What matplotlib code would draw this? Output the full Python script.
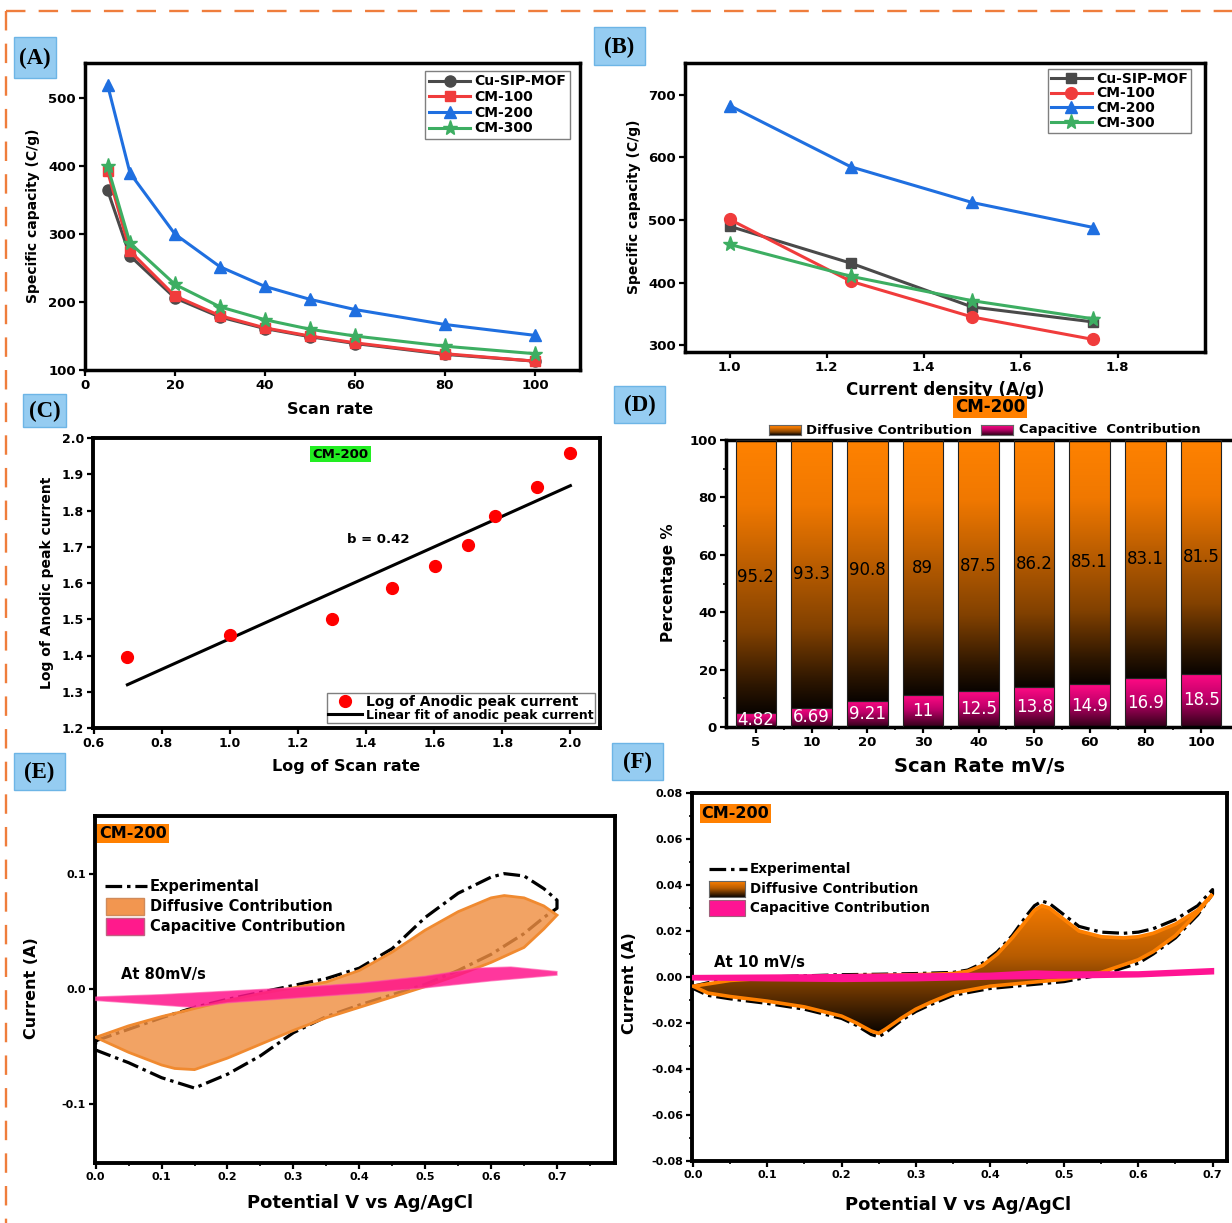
import numpy as np
import matplotlib
matplotlib.use('Agg')
import matplotlib.pyplot as plt
from matplotlib.patches import Rectangle, Polygon
from matplotlib.lines import Line2D
from matplotlib.colors import LinearSegmentedColormap
from matplotlib.ticker import MultipleLocator, FormatStrFormatter, FixedLocator

plt.rcParams['font.family'] = ['DejaVu Sans']
plt.rcParams['font.weight'] = 'bold'
plt.rcParams['axes.unicode_minus'] = False
plt.rcParams['lines.scale_dashes'] = False

# ---------------- data ----------------
# (A) specific capacity vs scan rate
scan_rate = [5, 10, 20, 30, 40, 50, 60, 80, 100]
capA_cusip = [365, 268, 206, 178, 161, 149, 139, 123, 113]
capA_cm100 = [393, 275, 209, 180, 162, 150, 140, 124, 113]
capA_cm200 = [520, 390, 300, 252, 223, 204, 189, 167, 151]
capA_cm300 = [400, 287, 226, 193, 174, 160, 150, 135, 124]

# (B) specific capacity vs current density
current_density = [1.0, 1.25, 1.5, 1.75]
capB_cusip = [490, 431, 361, 337]
capB_cm100 = [501, 402, 345, 309]
capB_cm200 = [683, 585, 528, 488]
capB_cm300 = [461, 410, 371, 342]

# (C) log anodic peak current vs log scan rate
log_scan_rate = [0.699, 1.0, 1.301, 1.477, 1.602, 1.699, 1.778, 1.903, 2.0]
log_anodic_current = [1.395, 1.457, 1.502, 1.585, 1.647, 1.706, 1.784, 1.866, 1.958]

# (D) contributions
rate_labels = ['5', '10', '20', '30', '40', '50', '60', '80', '100']
diffusive_pct = [95.2, 93.3, 90.8, 89, 87.5, 86.2, 85.1, 83.1, 81.5]
capacitive_pct = [4.82, 6.69, 9.21, 11, 12.5, 13.8, 14.9, 16.9, 18.5]

# (E) CV at 80 mV/s
E_exp_fwd_v = [0.00, 0.05, 0.10, 0.15, 0.20, 0.25, 0.30, 0.35, 0.40, 0.45, 0.50, 0.55, 0.60, 0.62, 0.65, 0.68, 0.70]
E_exp_fwd_i = [-0.045, -0.035, -0.025, -0.016, -0.009, -0.003, 0.003, 0.009, 0.018, 0.035, 0.062, 0.083, 0.097, 0.100, 0.098, 0.087, 0.077]
E_exp_rev_v = [0.70, 0.68, 0.65, 0.60, 0.55, 0.50, 0.45, 0.40, 0.35, 0.30, 0.25, 0.20, 0.15, 0.10, 0.05, 0.00, 0.00]
E_exp_rev_i = [0.070, 0.062, 0.048, 0.030, 0.016, 0.004, -0.005, -0.014, -0.024, -0.038, -0.058, -0.074, -0.086, -0.077, -0.064, -0.053, -0.045]
E_diff_up_v = [0.00, 0.05, 0.10, 0.15, 0.20, 0.25, 0.30, 0.35, 0.40, 0.45, 0.50, 0.55, 0.60, 0.62, 0.65, 0.68, 0.70]
E_diff_up_i = [-0.042, -0.032, -0.024, -0.017, -0.010, -0.004, 0.001, 0.006, 0.016, 0.032, 0.051, 0.067, 0.079, 0.081, 0.079, 0.072, 0.064]
E_diff_lo_v = [0.70, 0.68, 0.65, 0.60, 0.55, 0.50, 0.45, 0.40, 0.35, 0.30, 0.25, 0.20, 0.15, 0.12, 0.10, 0.05, 0.00]
E_diff_lo_i = [0.064, 0.052, 0.036, 0.023, 0.012, 0.002, -0.007, -0.016, -0.025, -0.036, -0.048, -0.060, -0.070, -0.069, -0.066, -0.055, -0.042]
E_cap_up_v = [0.00, 0.10, 0.20, 0.30, 0.40, 0.50, 0.58, 0.63, 0.70]
E_cap_up_i = [-0.007, -0.005, -0.002, 0.001, 0.005, 0.011, 0.018, 0.019, 0.015]
E_cap_lo_v = [0.70, 0.60, 0.50, 0.40, 0.30, 0.20, 0.15, 0.10, 0.05, 0.00]
E_cap_lo_i = [0.012, 0.007, 0.001, -0.004, -0.008, -0.012, -0.016, -0.014, -0.012, -0.010]

# (F) CV at 10 mV/s
F_exp_fwd_v = [0.00, 0.02, 0.05, 0.10, 0.15, 0.20, 0.25, 0.30, 0.35, 0.37, 0.39, 0.41, 0.43, 0.45, 0.46, 0.47, 0.48, 0.50, 0.52, 0.55, 0.58, 0.60, 0.62, 0.65, 0.68, 0.70]
F_exp_fwd_i = [-0.004, -0.0025, -0.001, 0.000, 0.0005, 0.001, 0.0012, 0.0015, 0.002, 0.003, 0.006, 0.011, 0.018, 0.027, 0.031, 0.033, 0.032, 0.027, 0.022, 0.0195, 0.019, 0.0195, 0.021, 0.025, 0.031, 0.038]
F_exp_rev_v = [0.70, 0.68, 0.65, 0.62, 0.60, 0.55, 0.50, 0.45, 0.40, 0.35, 0.32, 0.30, 0.28, 0.26, 0.25, 0.24, 0.22, 0.20, 0.15, 0.10, 0.05, 0.02, 0.00]
F_exp_rev_i = [0.036, 0.027, 0.017, 0.010, 0.006, 0.001, -0.002, -0.0035, -0.005, -0.008, -0.012, -0.015, -0.019, -0.024, -0.026, -0.025, -0.021, -0.018, -0.014, -0.0115, -0.0095, -0.008, -0.005]
F_diff_up_v = [0.00, 0.05, 0.10, 0.20, 0.30, 0.35, 0.37, 0.39, 0.41, 0.43, 0.45, 0.46, 0.47, 0.48, 0.50, 0.52, 0.55, 0.58, 0.60, 0.62, 0.65, 0.68, 0.70]
F_diff_up_i = [-0.004, -0.0015, -0.0005, 0.0005, 0.001, 0.0015, 0.0025, 0.005, 0.010, 0.017, 0.025, 0.029, 0.031, 0.030, 0.025, 0.020, 0.0175, 0.017, 0.0175, 0.019, 0.023, 0.029, 0.036]
F_diff_lo_v = [0.70, 0.68, 0.65, 0.62, 0.60, 0.55, 0.50, 0.45, 0.40, 0.35, 0.32, 0.30, 0.28, 0.26, 0.25, 0.24, 0.22, 0.20, 0.15, 0.10, 0.05, 0.02, 0.00]
F_diff_lo_i = [0.036, 0.028, 0.018, 0.011, 0.0075, 0.002, -0.001, -0.0025, -0.004, -0.007, -0.011, -0.014, -0.018, -0.0225, -0.0245, -0.0235, -0.020, -0.017, -0.013, -0.0105, -0.0085, -0.007, -0.004]
F_cap_up_v = [0.00, 0.20, 0.40, 0.46, 0.50, 0.60, 0.70]
F_cap_up_i = [0.0002, 0.0006, 0.0012, 0.0022, 0.0018, 0.0018, 0.0032]
F_cap_lo_v = [0.70, 0.60, 0.50, 0.40, 0.30, 0.20, 0.10, 0.00]
F_cap_lo_i = [0.0018, 0.0005, 0.0, -0.0005, -0.0012, -0.0015, -0.0012, -0.0008]

# ---------------- figure helpers ----------------
W, H = 1232, 1223
fig = plt.figure(figsize=(W / 100, H / 100), dpi=100)


def add_ax(l, t, r, b):
    return fig.add_axes([l / W, 1 - b / H, (r - l) / W, (b - t) / H])


def ftext(x, y, s, **kw):
    return fig.text(x / W, 1 - y / H, s, **kw)


def fline(xs, ys, **kw):
    fig.add_artist(Line2D([x / W for x in xs], [1 - y / H for y in ys], transform=fig.transFigure, **kw))


def frect(l, t, r, b, **kw):
    fig.add_artist(Rectangle((l / W, 1 - b / H), (r - l) / W, (b - t) / H, transform=fig.transFigure, **kw))


grad = np.linspace(0, 1, 256).reshape(-1, 1)


def fgrad(l, t, r, b, cmap, edge='#666666'):
    a = add_ax(l, t, r, b)
    a.imshow(grad, origin='lower', aspect='auto', cmap=cmap, extent=[0, 1, 0, 1])
    a.set_xticks([]); a.set_yticks([])
    for s in a.spines.values():
        s.set_linewidth(0.8); s.set_edgecolor(edge)
    return a


def style_ax(ax, spine_lw=2.5, size=9.5):
    for s in ax.spines.values():
        s.set_linewidth(spine_lw)
    ax.tick_params(which='major', direction='out', width=1.6, length=4.5, labelsize=size, pad=2)
    ax.tick_params(which='minor', direction='out', width=1.2, length=2.5)


def place_label(ax, box, which, text, cx, cy, size):
    l, t, r, b = box
    pos = ((cx - l) / (r - l), (b - cy) / (b - t))
    if which == 'x':
        ax.set_xlabel(text, fontsize=size, fontweight='bold', va='center', ha='center')
        ax.xaxis.set_label_coords(*pos)
    else:
        ax.set_ylabel(text, fontsize=size, fontweight='bold', va='center', ha='center')
        ax.yaxis.set_label_coords(*pos)


def panel_tag(l, t, r, b, s):
    frect(l, t, r, b, facecolor='#95CCF1', edgecolor='#6DB5E6', lw=1.0)
    ftext((l + r) / 2, (t + b) / 2 + 1, s, ha='center', va='center', fontsize=16.5,
          fontweight='bold', family='Liberation Serif')


# dashed orange frame
fline([6, 1232], [11, 11], color='#EF7D3C', lw=1.7, ls=(0, (14, 9.5)))
fline([6, 6], [11, 1223], color='#EF7D3C', lw=1.7, ls=(0, (14, 9.5)))

c_gray, c_red, c_blue, c_green = '#4A4A4A', '#F03C3C', '#1F6FE0', '#3DAE62'

# ---------------- (A) ----------------
boxA = (85, 63, 580, 370)
axA = add_ax(*boxA)
for vals, lab, col, mk, ms in [(capA_cusip, 'Cu-SIP-MOF', c_gray, 'o', 8),
                               (capA_cm100, 'CM-100', c_red, 's', 7.5),
                               (capA_cm200, 'CM-200', c_blue, '^', 9),
                               (capA_cm300, 'CM-300', c_green, '*', 11)]:
    axA.plot(scan_rate, vals, color=col, marker=mk, ms=ms, lw=2.2, label=lab)
axA.set_xlim(0, 110)
axA.set_ylim(100, 552)
axA.set_xticks([0, 20, 40, 60, 80, 100])
axA.set_yticks([100, 200, 300, 400, 500])
style_ax(axA)
place_label(axA, boxA, 'x', 'Scan rate', 330, 410, 11.5)
place_label(axA, boxA, 'y', 'Specific capacity (C/g)', 33, 216, 10)
axA.legend(loc='upper right', bbox_to_anchor=((570 - 85) / 495, (370 - 71) / 307), borderaxespad=0,
           prop={'weight': 'bold', 'size': 10}, handlelength=3.0, handletextpad=0.3, borderpad=0.25,
           labelspacing=0.12, fancybox=False, edgecolor='#7F7F7F', framealpha=1)
panel_tag(14, 37, 56, 78, '(A)')

# ---------------- (B) ----------------
boxB = (685, 63, 1205, 352)
axB = add_ax(*boxB)
for vals, lab, col, mk, ms in [(capB_cusip, 'Cu-SIP-MOF', c_gray, 's', 7.5),
                               (capB_cm100, 'CM-100', c_red, 'o', 8.5),
                               (capB_cm200, 'CM-200', c_blue, '^', 9),
                               (capB_cm300, 'CM-300', c_green, '*', 11)]:
    axB.plot(current_density, vals, color=col, marker=mk, ms=ms, lw=2.2, label=lab)
axB.set_xlim(0.908, 1.98)
axB.set_ylim(289, 751)
axB.set_xticks([1.0, 1.2, 1.4, 1.6, 1.8])
axB.set_yticks([300, 400, 500, 600, 700])
axB.xaxis.set_major_formatter(FormatStrFormatter('%.1f'))
style_ax(axB)
place_label(axB, boxB, 'x', 'Current density (A/g)', 945, 390, 12)
place_label(axB, boxB, 'y', 'Specific capacity (C/g)', 634, 207, 10)
axB.legend(loc='upper right', bbox_to_anchor=((1191 - 685) / 520, (352 - 69) / 289), borderaxespad=0,
           prop={'weight': 'bold', 'size': 10}, handlelength=3.0, handletextpad=0.3, borderpad=0.2,
           labelspacing=0.05, fancybox=False, edgecolor='#7F7F7F', framealpha=1)
panel_tag(594, 27, 645, 65, '(B)')

# ---------------- (C) ----------------
boxC = (93, 438, 600, 728)
axC = add_ax(*boxC)
axC.plot(log_scan_rate, log_anodic_current, ls='none', marker='o', ms=8.5, color='#FF0000',
         label='Log of Anodic peak current', zorder=3)
slope, intercept = np.polyfit(log_scan_rate, log_anodic_current, 1)
fit_x = np.array([min(log_scan_rate), max(log_scan_rate)])
axC.plot(fit_x, slope * fit_x + intercept, color='black', lw=2.2, label='Linear fit of anodic peak current')
axC.set_xlim(0.598, 2.087)
axC.set_ylim(1.2, 2.0)
axC.set_xticks(np.arange(0.6, 2.01, 0.2))
axC.set_yticks(np.arange(1.2, 2.01, 0.1))
axC.xaxis.set_major_formatter(FormatStrFormatter('%.1f'))
axC.yaxis.set_major_formatter(FormatStrFormatter('%.1f'))
style_ax(axC, spine_lw=2.8, size=9)
place_label(axC, boxC, 'x', 'Log of Scan rate', 346, 767, 11.5)
place_label(axC, boxC, 'y', 'Log of Anodic peak current', 47, 583, 10)
legC = axC.legend(loc='lower right', bbox_to_anchor=((595 - 93) / 507, (728 - 723) / 290), borderaxespad=0,
                  prop={'weight': 'bold', 'size': 10}, handlelength=2.4, handletextpad=0.3, borderpad=0.1,
                  labelspacing=0.0, fancybox=False, edgecolor='#7F7F7F', framealpha=1)
legC.get_texts()[1].set_fontsize(9)
axC.text((340.5 - 93) / 507, (728 - 454) / 290, 'CM-200', transform=axC.transAxes, ha='center', va='center',
         fontsize=9.5, fontweight='bold', bbox=dict(boxstyle='square,pad=0.15', fc='#22EE22', ec='none'))
axC.text((347 - 93) / 507, (728 - 539) / 290, 'b = 0.42', transform=axC.transAxes, ha='left', va='center',
         fontsize=9.5, fontweight='bold')
panel_tag(23, 394, 66, 427, '(C)')

# ---------------- (D) ----------------
diff_cmap = LinearSegmentedColormap.from_list('diff', [(0.0, '#0A0400'), (0.1, '#2D1600'), (0.3, '#824100'),
                                                       (0.5, '#B25900'), (0.76, '#F07800'), (1.0, '#FF8200')])
cap_cmap = LinearSegmentedColormap.from_list('cap', [(0.0, '#300018'), (0.55, '#C0006A'),
                                                     (1.0, '#FF0A84')])
boxD = (726, 440, 1231, 727)
axD = add_ax(*boxD)
xpos = np.arange(len(rate_labels))
bw = 0.73
cap_bars = axD.bar(xpos, capacitive_pct, bw, facecolor='none', edgecolor='#222222', lw=0.8, zorder=3)
diff_bars = axD.bar(xpos, diffusive_pct, bw, bottom=capacitive_pct, facecolor='none', edgecolor='#222222',
                    lw=0.8, zorder=3)
for bars, cm in [(cap_bars, cap_cmap), (diff_bars, diff_cmap)]:
    for b in bars:
        axD.imshow(grad, origin='lower', aspect='auto', cmap=cm, zorder=2,
                   extent=[b.get_x(), b.get_x() + b.get_width(), b.get_y(), b.get_y() + b.get_height()])
for xi, c, d in zip(xpos, capacitive_pct, diffusive_pct):
    axD.text(xi, c / 2, str(c), ha='center', va='center', color='white', fontsize=12, fontweight='normal', zorder=4)
    axD.text(xi, c + d / 2, str(d), ha='center', va='center', color='black', fontsize=12, fontweight='normal',
             zorder=4)
axD.set_xlim(-0.537, 8.537)
axD.set_ylim(0, 100)
axD.set_xticks(xpos)
axD.set_xticklabels(rate_labels)
axD.xaxis.set_minor_locator(FixedLocator(xpos[:-1] + 0.5))
axD.set_yticks([0, 20, 40, 60, 80, 100])
axD.yaxis.set_minor_locator(MultipleLocator(10))
style_ax(axD, spine_lw=2.5, size=9.5)
axD.spines['right'].set_visible(False)
place_label(axD, boxD, 'x', 'Scan Rate mV/s', 980, 767, 14)
place_label(axD, boxD, 'y', 'Percentage %', 669, 583, 11)
ftext(990, 407.5, 'CM-200', ha='center', va='center', fontsize=12, fontweight='bold',
      bbox=dict(boxstyle='square,pad=0.12', fc='#FF8000', ec='none'))
fgrad(769, 425, 801, 435, diff_cmap)
ftext(806, 430, 'Diffusive Contribution', ha='left', va='center', fontsize=9.5, fontweight='bold')
fgrad(981, 425, 1013, 435, cap_cmap)
ftext(1019, 430, 'Capacitive  Contribution', ha='left', va='center', fontsize=9.5, fontweight='bold')
panel_tag(614, 386, 665, 423, '(D)')

# ---------------- (E) ----------------
dashdot = (0, (12, 3.5, 2.5, 3.5))
boxE = (95, 816, 615, 1163)
axE = add_ax(*boxE)
axE.plot(E_exp_fwd_v + E_exp_rev_v, E_exp_fwd_i + E_exp_rev_i, color='black', lw=2.3, ls=dashdot, zorder=2)
axE.add_patch(Polygon(np.column_stack([E_diff_up_v + E_diff_lo_v, E_diff_up_i + E_diff_lo_i]),
                      closed=True, fc=(0.94, 0.56, 0.26, 0.82), ec='#F08A30', lw=2, zorder=3))
axE.add_patch(Polygon(np.column_stack([E_cap_up_v + E_cap_lo_v, E_cap_up_i + E_cap_lo_i]),
                      closed=True, fc=(1.0, 0.08, 0.55, 0.85), ec=(1.0, 0.3, 0.65, 0.6), lw=1, zorder=4))
axE.set_xlim(-0.001, 0.788)
axE.set_ylim(-0.151, 0.150)
axE.set_xticks(np.arange(0, 0.71, 0.1))
axE.xaxis.set_minor_locator(FixedLocator(np.arange(0.05, 0.76, 0.1)))
axE.set_yticks([-0.1, 0.0, 0.1])
axE.xaxis.set_major_formatter(FormatStrFormatter('%.1f'))
axE.yaxis.set_major_formatter(FormatStrFormatter('%.1f'))
style_ax(axE, spine_lw=2.8, size=8)
place_label(axE, boxE, 'x', 'Potential V vs Ag/AgCl', 360, 1203, 13)
place_label(axE, boxE, 'y', 'Current (A)', 32, 988, 11.5)
ftext(133, 833.5, 'CM-200', ha='center', va='center', fontsize=11.5, fontweight='bold',
      bbox=dict(boxstyle='square,pad=0.12', fc='#FF8000', ec='none'))
fline([105, 147], [886, 886], color='black', lw=2.3, ls=dashdot)
ftext(150, 886, 'Experimental', ha='left', va='center', fontsize=10.5, fontweight='bold')
frect(106, 898, 144, 915, facecolor='#F29650', edgecolor='#D08A5A', lw=1)
ftext(150, 906.5, 'Diffusive Contribution', ha='left', va='center', fontsize=10.5, fontweight='bold')
frect(106, 918, 144, 935, facecolor='#FF1A8C', edgecolor='#C06080', lw=1)
ftext(150, 926.5, 'Capacitive Contribution', ha='left', va='center', fontsize=10.5, fontweight='bold')
ftext(121, 975, 'At 80mV/s', ha='left', va='center', fontsize=10.5, fontweight='bold')
panel_tag(14, 753, 65, 790, '(E)')

# ---------------- (F) ----------------
boxF = (692, 793, 1227, 1161)
axF = add_ax(*boxF)
axF.plot(F_exp_fwd_v + F_exp_rev_v, F_exp_fwd_i + F_exp_rev_i, color='black', lw=2.3, ls=dashdot, zorder=2)
poly_vals = np.column_stack([F_diff_up_v + F_diff_lo_v, F_diff_up_i + F_diff_lo_i])
diffF = Polygon(poly_vals, closed=True, fc='none', ec='#FF8000', lw=2.6, zorder=4)
axF.add_patch(diffF)
fill_cmap = LinearSegmentedColormap.from_list('fill', [(0.0, '#0A0400'), (0.55, '#B85C00'), (1.0, '#FF8000')])
imF = axF.imshow(grad, origin='lower', aspect='auto', cmap=fill_cmap, zorder=3,
                 extent=[min(F_diff_up_v), max(F_diff_up_v), min(F_diff_lo_i), max(F_diff_up_i)])
imF.set_clip_path(diffF)
axF.add_patch(Polygon(np.column_stack([F_cap_up_v + F_cap_lo_v, F_cap_up_i + F_cap_lo_i]),
                      closed=True, fc='#FF1493', ec='#FF1493', lw=2.4, zorder=5))
axF.set_xlim(-0.0016, 0.7195)
axF.set_ylim(-0.08, 0.08)
axF.set_xticks(np.arange(0, 0.71, 0.1))
axF.xaxis.set_minor_locator(FixedLocator(np.arange(0.05, 0.70, 0.1)))
axF.set_yticks(np.arange(-0.08, 0.081, 0.02))
axF.yaxis.set_minor_locator(MultipleLocator(0.01))
axF.xaxis.set_major_formatter(FormatStrFormatter('%.1f'))
axF.yaxis.set_major_formatter(FormatStrFormatter('%.2f'))
style_ax(axF, spine_lw=2.8, size=8)
place_label(axF, boxF, 'x', 'Potential V vs Ag/AgCl', 958, 1205, 13)
place_label(axF, boxF, 'y', 'Current (A)', 630, 983, 11.5)
ftext(735.5, 813.5, 'CM-200', ha='center', va='center', fontsize=11.5, fontweight='bold',
      bbox=dict(boxstyle='square,pad=0.12', fc='#FF8000', ec='none'))
fline([709, 747], [869, 869], color='black', lw=2.3, ls=dashdot)
ftext(750, 869, 'Experimental', ha='left', va='center', fontsize=9.75, fontweight='bold')
fgrad(709, 881, 745, 897, fill_cmap)
ftext(750, 889, 'Diffusive Contribution', ha='left', va='center', fontsize=9.75, fontweight='bold')
frect(709, 900, 745, 916, facecolor='#FF1493', edgecolor='#A0607A', lw=0.8)
ftext(750, 908, 'Capacitive Contribution', ha='left', va='center', fontsize=9.75, fontweight='bold')
ftext(714, 963, 'At 10 mV/s', ha='left', va='center', fontsize=10.7, fontweight='bold')
panel_tag(612, 743, 663, 780, '(F)')

fig.savefig('out.png', dpi=100)
